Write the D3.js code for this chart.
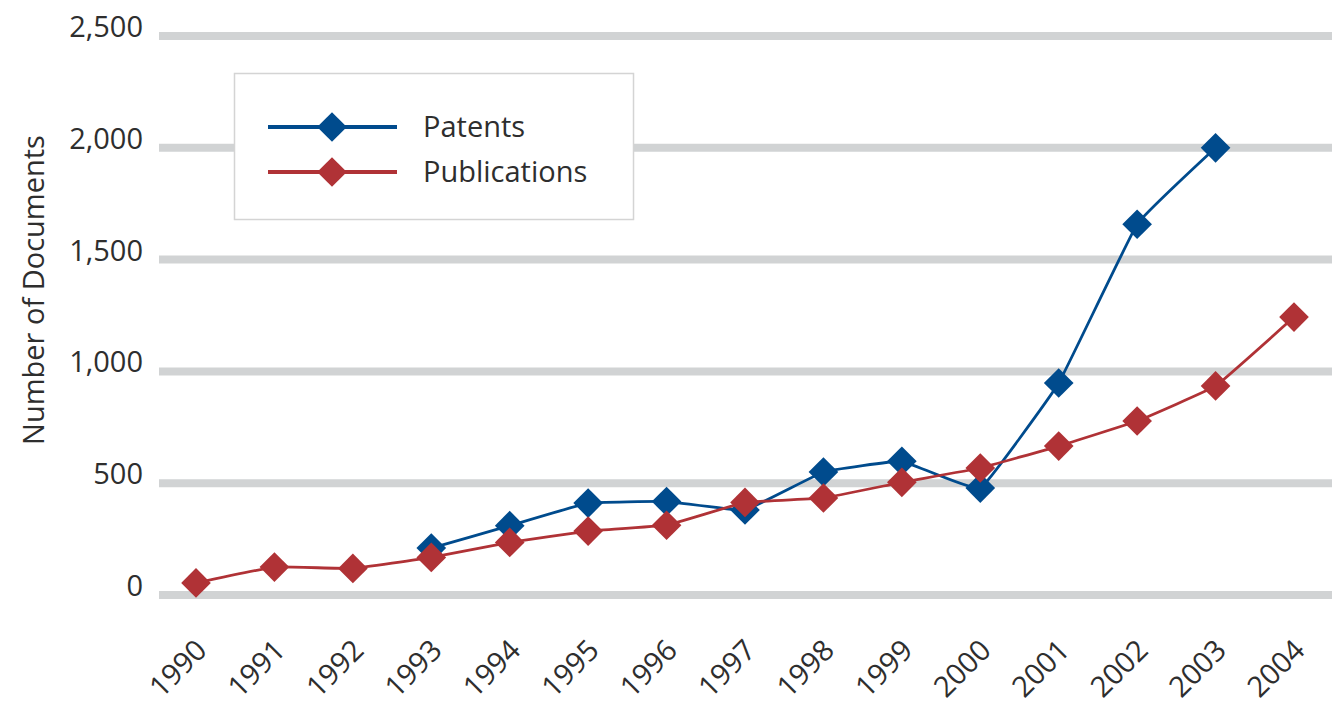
<!DOCTYPE html>
<html>
<head>
<meta charset="utf-8">
<script src="https://cdn.jsdelivr.net/npm/d3@7/dist/d3.min.js"></script>
<style>
  html, body { margin: 0; padding: 0; background: #fff; }
  svg { display: block; }
  text { font-family: "Open Sans", Lato, sans-serif; fill: #2e2e2e; }
</style>
</head>
<body>
<svg id="chart" width="1332" height="710"></svg>
<script>
// Yearly document counts
const years = ["1990","1991","1992","1993","1994","1995","1996","1997","1998","1999","2000","2001","2002","2003","2004"];
const patents = [null, null, null, 210, 310, 411, 418, 380, 550, 598, 478, 948, 1658, 2000, null];
const publications = [54, 125, 119, 168, 235, 286, 312, 414, 434, 504, 568, 666, 778, 935, 1243];
const yTicks = [0, 500, 1000, 1500, 2000, 2500];
const seriesNames = ["Patents", "Publications"];
const seriesColors = ["#004b8d", "#b03236"];

const FONT = "'Open Sans', Lato, sans-serif";
const FS = 29;
const svg = d3.select("#chart");

const x = d3.scalePoint().domain(years).range([196, 1294]);
const y = d3.scaleLinear().domain([0, 2500]).range([595, 36]);

// Horizontal grid bands
svg.append("g").selectAll("line").data(yTicks).join("line")
  .attr("x1", 159).attr("x2", 1332)
  .attr("y1", d => y(d)).attr("y2", d => y(d))
  .attr("stroke", "#d1d3d4").attr("stroke-width", 8);

// Y axis labels
const yAxis = d3.axisLeft(y).tickValues(yTicks).tickFormat(d3.format(",")).tickSize(0).tickPadding(0);
const gy = svg.append("g").attr("transform", "translate(143,0)").call(yAxis);
gy.select(".domain").remove();
gy.selectAll("text").attr("font-size", FS).attr("fill", "#2e2e2e")
  .attr("font-family", FONT).attr("dy", "0.02em");

// Y axis title
svg.append("text")
  .attr("transform", "translate(44,290) rotate(-90)")
  .attr("text-anchor", "middle")
  .attr("font-size", FS)
  .text("Number of Documents");

// X axis labels, slanted
const xAxis = d3.axisBottom(x).tickSize(0).tickPadding(0);
const gx = svg.append("g").call(xAxis);
gx.select(".domain").remove();
gx.selectAll(".tick text")
  .attr("font-size", FS).attr("fill", "#2e2e2e").attr("font-family", FONT)
  .attr("text-anchor", "end")
  .attr("y", 0).attr("dy", 0)
  .attr("transform", "translate(12,652) rotate(-45)");

// Series lines and markers
const line = d3.line()
  .defined(d => d.v !== null)
  .x(d => x(d.year)).y(d => y(d.v))
  .curve(d3.curveCardinal.tension(0.75));

const diamond = d3.symbol().type(d3.symbolSquare).size(440);

[patents, publications].forEach((vals, i) => {
  const pts = years.map((yr, k) => ({ year: yr, v: vals[k] }));
  const g = svg.append("g");
  g.append("path").datum(pts)
    .attr("d", line)
    .attr("fill", "none")
    .attr("stroke", seriesColors[i])
    .attr("stroke-width", 2.8);
  g.selectAll("path.m").data(pts.filter(d => d.v !== null)).join("path")
    .attr("class", "m")
    .attr("d", diamond)
    .attr("transform", d => `translate(${x(d.year)},${y(d.v)}) rotate(45)`)
    .attr("fill", seriesColors[i]);
});

// Legend
const legend = svg.append("g");
legend.append("rect")
  .attr("x", 234.5).attr("y", 73.5).attr("width", 399).attr("height", 146)
  .attr("fill", "#fff").attr("stroke", "#d4d4d4").attr("stroke-width", 1.5);
seriesNames.forEach((name, i) => {
  const ly = 127 + i * 45;
  legend.append("line")
    .attr("x1", 268).attr("x2", 397).attr("y1", ly).attr("y2", ly)
    .attr("stroke", seriesColors[i]).attr("stroke-width", 4);
  legend.append("path")
    .attr("d", diamond)
    .attr("transform", `translate(332,${ly}) rotate(45)`)
    .attr("fill", seriesColors[i]);
  legend.append("text")
    .attr("x", 423).attr("y", ly).attr("dy", "0.35em")
    .attr("font-size", FS)
    .text(name);
});
</script>
</body>
</html>
